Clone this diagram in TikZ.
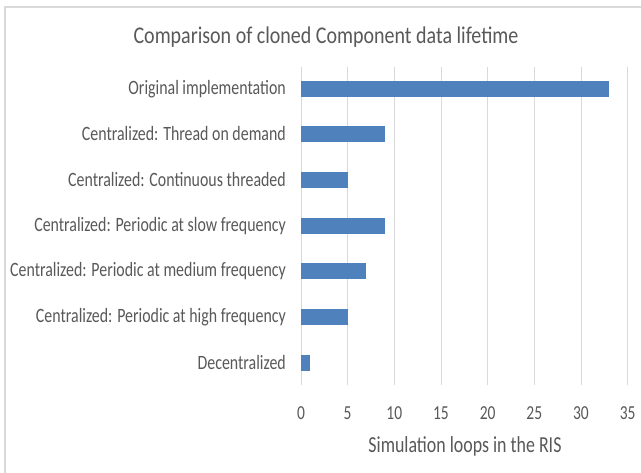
\documentclass[tikz,border=0pt]{standalone}
\usepackage{fontspec}
\setmainfont{Carlito}
\definecolor{txt}{HTML}{595959}
\definecolor{grid}{HTML}{D9D9D9}
\definecolor{bar}{HTML}{4F81BD}
\newcommand{\tall}[1]{\scalebox{1}[1.28]{#1}}
\begin{document}
\begin{tikzpicture}[x=1pt,y=-1pt,
  lbl/.style={anchor=east,text=txt,font=\fontsize{15.9}{18}\selectfont,inner sep=0pt},
  tick/.style={anchor=center,text=txt,font=\fontsize{15.5}{18}\selectfont,inner sep=0pt},
  barbox/.style={fill=bar,draw=none},
  gridline/.style={draw=grid,line width=0.8pt}]
\useasboundingbox (0,0) rectangle (641,473);
\fill[white] (0,0) rectangle (641,473);
\draw[grid,line width=1.2pt] (5,473) -- (5,7) -- (641,7);
\node[text=txt,font=\fontsize{20}{24}\selectfont,inner sep=0pt] (title) at (326,37) {\scalebox{1}[1.2]{Comparison of cloned Component data lifetime}};
\foreach \v [count=\i from 0] in {0,5,...,35}{
  \draw[gridline] (301+\v*9.333,67) -- (301+\v*9.333,385);
  \node[tick] (t\i) at (301+\v*9.333,413) {\tall{\v}};
}
\foreach \name/\val/\y in {a/33/89,b/9/134,c/5/180,d/9/226,e/7/271,f/5/317,g/1/363}{
  \fill[barbox] (301,\y-8) rectangle (301+\val*9.333,\y+8);
}
\node[lbl] (la) at (286,89) {\tall{Original implementation}};
\node[lbl] (lb) at (286,134) {\tall{Centralized: Thread on demand}};
\node[lbl] (lc) at (286,180) {\tall{Centralized: Continuous threaded}};
\node[lbl] (ld) at (286,226) {\tall{Centralized: Periodic at slow frequency}};
\node[lbl] (le) at (286,271) {\tall{Centralized: Periodic at medium frequency}};
\node[lbl] (lf) at (286,317) {\tall{Centralized: Periodic at high frequency}};
\node[lbl] (lg) at (286,363) {\tall{Decentralized}};
\node[text=txt,font=\fontsize{17.9}{20}\selectfont,inner sep=0pt] (xt) at (465,446) {\tall{Simulation loops in the RIS}};
\end{tikzpicture}
\end{document}
